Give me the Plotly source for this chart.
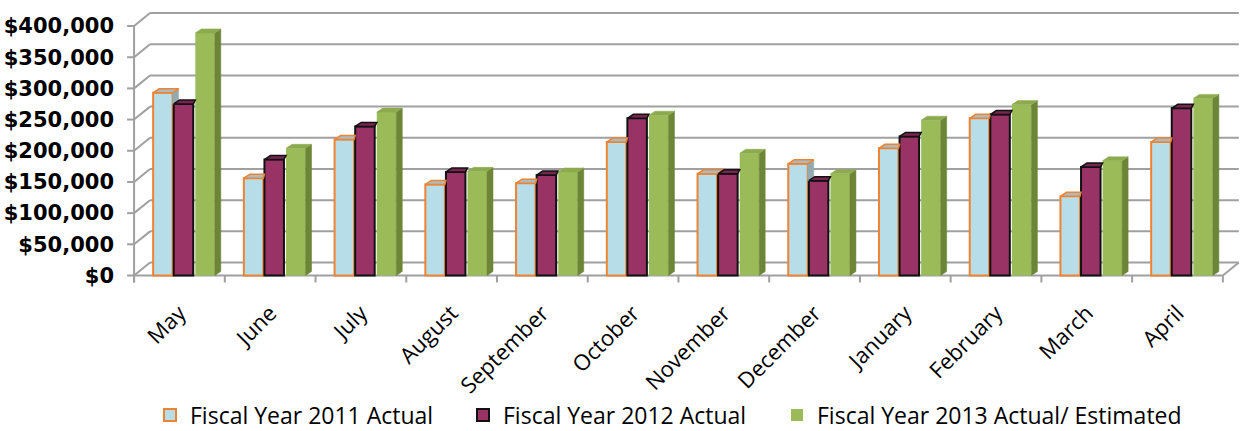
import plotly.graph_objects as go

months = ["May", "June", "July", "August", "September", "October",
          "November", "December", "January", "February", "March", "April"]
fy2011 = [293000, 156000, 218000, 146000, 148000, 214000, 163000, 179000, 204000, 252000, 127000, 214000]
fy2012 = [275000, 186000, 239000, 166000, 161000, 252000, 163000, 152000, 223000, 258000, 174000, 268000]
fy2013 = [389000, 204000, 262000, 167000, 166000, 257000, 196000, 163000, 249000, 274000, 184000, 284000]
series_names = ["Fiscal Year 2011 Actual", "Fiscal Year 2012 Actual", "Fiscal Year 2013 Actual/ Estimated"]
y_ticks = [0, 50000, 100000, 150000, 200000, 250000, 300000, 350000, 400000]
y_ticktext = ["$0", "$50,000", "$100,000", "$150,000", "$200,000", "$250,000", "$300,000", "$350,000", "$400,000"]

# styling / geometry (in axis units)
W = 0.215
OFFS = [-0.29, -0.063, 0.175]
FACE = ["#B7DEE8", "#993366", "#9BBB59"]
EDGE = ["#EE8433", "#111111", "#9BBB59"]
TOPC = ["#A9BCC2", "#7A2452", "#8DAA4E"]
SIDEC = ["#93AAB1", "#6B1F45", "#6C8536"]
DDX, DDY = 0.066, 6400          # bar depth
DX, DY = 0.176, 20800            # back-wall offset
GRID = "#A0A0A0"
X0, X1 = -0.6, 11.7
Y0, Y1 = -12000, 433700
LEG_X = [150, 463, 777]          # legend left positions (px)

data = [fy2011, fy2012, fy2013]
n = len(months)
xs = list(range(n))
legend_ids = ["legend", "legend2", "legend3"]

fig = go.Figure()

for s in range(3):
    fig.add_trace(go.Bar(
        x=xs, y=data[s], width=W, offset=OFFS[s], name=series_names[s],
        legend=legend_ids[s],
        marker=dict(color=FACE[s], line=dict(color=EDGE[s], width=2 if s < 2 else 0)),
        hoverinfo="skip"))

for s in range(3):
    topx, topy, sidex, sidey = [], [], [], []
    for i in range(n):
        h = data[s][i]
        xl = i + OFFS[s]
        xr = xl + W
        if s < 2:
            hn = data[s + 1][i]
            xnl = i + OFFS[s + 1]
            right = xnl if hn > h else xr + DDX
            topx += [xl, xl + DDX, right, min(xr, right) if hn > h else xr, xl, None]
            topy += [h, h + DDY, h + DDY, h, h, None]
            if h > hn:
                sidex += [xr, xr + DDX, xr + DDX, xr, xr, None]
                sidey += [h, h + DDY, hn, hn, h, None]
        else:
            topx += [xl, xl + DDX, xr + DDX, xr, xl, None]
            topy += [h, h + DDY, h + DDY, h, h, None]
            sidex += [xr, xr + DDX, xr + DDX, xr, xr, None]
            sidey += [0, DDY, h + DDY, h, 0, None]
    if sidex:
        fig.add_trace(go.Scatter(x=sidex, y=sidey, mode="lines", fill="toself",
                                 fillcolor=SIDEC[s], line=dict(color=SIDEC[s], width=0.5),
                                 showlegend=False, hoverinfo="skip"))
    fig.add_trace(go.Scatter(x=topx, y=topy, mode="lines", fill="toself",
                             fillcolor=TOPC[s],
                             line=dict(color=EDGE[s] if s < 2 else TOPC[s], width=1.5 if s < 2 else 0.5),
                             showlegend=False, hoverinfo="skip"))

shapes = []
line = dict(color=GRID, width=2)
for v in y_ticks:
    shapes.append(dict(type="line", xref="x", yref="y", x0=-0.5 + DX, x1=n - 0.5 + DX,
                       y0=v + DY, y1=v + DY, line=line, layer="below"))
    shapes.append(dict(type="line", xref="x", yref="y", x0=-0.5, x1=-0.5 + DX,
                       y0=v, y1=v + DY, line=line, layer="below"))
    shapes.append(dict(type="line", xref="x", yref="y", x0=-0.5 - 0.077, x1=-0.5,
                       y0=v, y1=v, line=line, layer="below"))
shapes.append(dict(type="line", xref="x", yref="y", x0=-0.5, x1=n - 0.5, y0=0, y1=0,
                   line=line, layer="below"))
shapes.append(dict(type="line", xref="x", yref="y", x0=n - 0.5, x1=n - 0.5 + DX, y0=0, y1=DY,
                   line=line, layer="below"))
shapes.append(dict(type="line", xref="x", yref="y", x0=-0.5, x1=-0.5, y0=-11200, y1=y_ticks[-1],
                   line=line, layer="below"))
for b in range(n + 1):
    shapes.append(dict(type="line", xref="x", yref="y", x0=b - 0.5, x1=b - 0.5, y0=0, y1=-11200,
                       line=line, layer="below"))

legend_common = dict(orientation="h", xref="container", yref="container",
                     xanchor="left", y=1 - 415 / 431, yanchor="middle",
                     bgcolor="rgba(0,0,0,0)",
                     font=dict(family="Open Sans", size=23, color="#000000"))

fig.update_layout(
    width=1246, height=431,
    margin=dict(l=125, r=5, t=5, b=148, autoexpand=False),
    paper_bgcolor="white", plot_bgcolor="white",
    barmode="overlay",
    shapes=shapes,
    showlegend=True,
    legend=dict(x=LEG_X[0] / 1246, **legend_common),
    legend2=dict(x=LEG_X[1] / 1246, **legend_common),
    legend3=dict(x=LEG_X[2] / 1246, **legend_common),
    xaxis=dict(range=[X0, X1], tickmode="array", tickvals=xs, ticktext=months,
               tickangle=-45, ticks="", showgrid=False, zeroline=False, showline=False,
               ticklabelstandoff=12, automargin=False,
               tickfont=dict(family="Open Sans", size=22, color="#000000")),
    yaxis=dict(range=[Y0, Y1], tickmode="array", tickvals=y_ticks, ticktext=y_ticktext,
               ticks="", showgrid=False, zeroline=False, showline=False,
               ticklabelstandoff=10, automargin=False,
               tickfont=dict(family="DejaVu Sans", size=21, color="#000000", weight="bold")),
)

fig.write_html("out.html")
